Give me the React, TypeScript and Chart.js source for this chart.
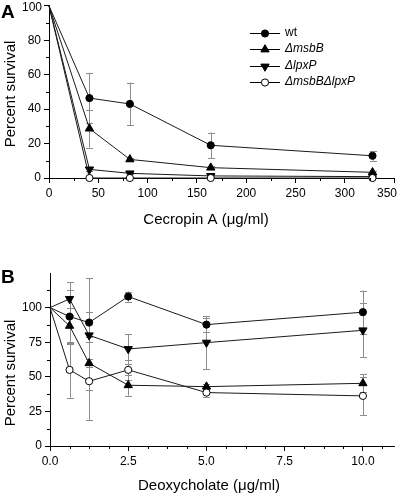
import React, { useEffect, useRef } from "react";
import { Chart, registerables } from "chart.js";
Chart.register(...registerables);

const FONT = "'Liberation Sans', Arial, Helvetica, sans-serif";

// ---------- Data: panel A (Cecropin A) ----------
const xA = [0, 41, 82, 164, 328];
const wtA = [100, 46.4, 43.0, 19.0, 12.9];
const wtAErr = [0, 14.7, 12.4, 7.4, 2.8];
const msbBA = [100, 28.7, 10.8, 6.0, 3.3];
const msbBAErr = [0, 11.0, 1.0, 1.0, 0.8];
const lpxPA = [100, 5.0, 2.7, 1.2, 0.8];
const lpxPAErr = [0, 1.0, 0.5, 0.4, 0.3];
const dblA = [100, 0, 0, 0, 0];
const dblAErr = [0, 0, 0, 0, 0];

// ---------- Data: panel B (Deoxycholate) ----------
const xB = [0, 0.625, 1.25, 2.5, 5, 10];
const wtB = [100, 93.5, 89.2, 108.0, 87.7, 96.7];
const wtBErr = [0, 19.0, 32.0, 3.6, 5.0, 15.6];
const msbBB = [100, 86.8, 59.8, 43.9, 42.9, 45.3];
const msbBBErr = [0, 13.0, 19.0, 7.5, 2.0, 6.5];
const lpxPB = [100, 106.3, 80.0, 70.1, 74.7, 83.6];
const lpxPBErr = [0, 12.0, 17.0, 10.5, 19.0, 19.5];
const dblB = [100, 55.0, 46.8, 55.0, 38.6, 36.2];
const dblBErr = [0, 20.0, 28.0, 7.0, 3.5, 14.0];

const seriesNames = ["wt", "\u0394msbB", "\u0394lpxP", "\u0394msbB\u0394lpxP"];
const xTitleA = "Cecropin A (\u03bcg/ml)";
const xTitleB = "Deoxycholate (\u03bcg/ml)";
const yTitle = "Percent survival";

type Marker = "dot" | "up" | "down" | "open";
const markers: Marker[] = ["dot", "up", "down", "open"];

function drawMarker(ctx: CanvasRenderingContext2D, m: Marker, x: number, y: number) {
  ctx.save();
  ctx.lineWidth = 1;
  ctx.strokeStyle = "#000";
  ctx.fillStyle = m === "open" ? "#fff" : "#000";
  ctx.beginPath();
  if (m === "dot" || m === "open") {
    ctx.arc(x, y, 3.6, 0, Math.PI * 2);
  } else {
    const r = 4.8;
    const s = m === "up" ? 1 : -1;
    ctx.moveTo(x, y - s * r);
    ctx.lineTo(x + 0.866 * r, y + s * 0.5 * r);
    ctx.lineTo(x - 0.866 * r, y + s * 0.5 * r);
    ctx.closePath();
  }
  ctx.fill();
  ctx.stroke();
  ctx.restore();
}

type Panel = {
  x: number[];
  series: number[][];
  errs: number[][];
  xMax: number;
  xStep: number;
  xMinor: number;
  yMax: number;
  yStep: number;
  yMinor: number;
  yLabelMax: number;
  yAxisWidth: number;
  padTop: number;
  padRight: number;
  xAxisHeight: number;
  xFmt: (v: number) => string;
  hideXLabel?: number;
  hideYLabel?: number;
  letter: string;
  letterY: number;
  xTitle: string;
  xTitleX: number;
  xTitleY: number;
  yTitleY: number;
  legend: boolean;
};

const panelA: Panel = {
  x: xA,
  series: [wtA, msbBA, lpxPA, dblA],
  errs: [wtAErr, msbBAErr, lpxPAErr, dblAErr],
  xMax: 350,
  xStep: 50,
  xMinor: 25,
  yMax: 100,
  yStep: 20,
  yMinor: 10,
  yLabelMax: 100,
  yAxisWidth: 49,
  padTop: 5,
  padRight: 5,
  xAxisHeight: 54,
  xFmt: (v) => String(v),
  hideXLabel: 350,
  hideYLabel: 100,
  letter: "A",
  letterY: 18,
  xTitle: xTitleA,
  xTitleX: 206,
  xTitleY: 224,
  yTitleY: 94,
  legend: true,
};

const panelB: Panel = {
  x: xB,
  series: [wtB, msbBB, lpxPB, dblB],
  errs: [wtBErr, msbBBErr, lpxPBErr, dblBErr],
  xMax: 11,
  xStep: 2.5,
  xMinor: 0.625,
  yMax: 125,
  yStep: 25,
  yMinor: 12.5,
  yLabelMax: 100,
  yAxisWidth: 50,
  padTop: 41,
  padRight: 2,
  xAxisHeight: 47,
  xFmt: (v) => v.toFixed(1),
  letter: "B",
  letterY: 51,
  xTitle: xTitleB,
  xTitleX: 209,
  xTitleY: 258,
  yTitleY: 141,
  legend: false,
};

function isMultiple(v: number, step: number) {
  const q = v / step;
  return Math.abs(q - Math.round(q)) < 1e-6;
}

function buildChart(canvas: HTMLCanvasElement, p: Panel) {
  const pointStyles: any[] = ["circle", "triangle", "triangle", "circle"];
  const radii = [3.6, 4.8, 4.8, 3.6];
  const datasets = p.series.map((vals, si) => ({
    label: seriesNames[si],
    data: p.x.map((x, i) => ({ x, y: vals[i] })),
    borderColor: "#1a1a1a",
    borderWidth: 1,
    pointStyle: pointStyles[si],
    pointRotation: markers[si] === "down" ? 180 : 0,
    pointRadius: p.x.map((_, i) => (i === 0 ? 0 : radii[si])),
    pointBackgroundColor: markers[si] === "open" ? "#fff" : "#000",
    pointBorderColor: "#000",
    pointBorderWidth: 1,
    tension: 0,
    clip: false as any,
    order: si === 3 ? 0 : 1,
  }));

  const extras = {
    id: "extras" + p.letter,
    beforeDatasetsDraw(chart: any) {
      const ctx: CanvasRenderingContext2D = chart.ctx;
      const xs = chart.scales.x;
      const ys = chart.scales.y;
      ctx.save();
      ctx.strokeStyle = "#8c8c8c";
      ctx.lineWidth = 1;
      p.series.forEach((vals, si) => {
        vals.forEach((v, i) => {
          const e = p.errs[si][i];
          if (!e) return;
          const px = Math.round(xs.getPixelForValue(p.x[i])) + 0.5;
          const y1 = ys.getPixelForValue(v + e);
          const y2 = ys.getPixelForValue(Math.max(0, v - e));
          ctx.beginPath();
          ctx.moveTo(px, y1);
          ctx.lineTo(px, y2);
          ctx.moveTo(px - 3.5, Math.round(y1) + 0.5);
          ctx.lineTo(px + 3.5, Math.round(y1) + 0.5);
          ctx.moveTo(px - 3.5, Math.round(y2) + 0.5);
          ctx.lineTo(px + 3.5, Math.round(y2) + 0.5);
          ctx.stroke();
        });
      });
      ctx.restore();
    },
    afterDraw(chart: any) {
      const ctx: CanvasRenderingContext2D = chart.ctx;
      const xs = chart.scales.x;
      const ys = chart.scales.y;
      const area = chart.chartArea;
      ctx.save();
      // minor ticks
      ctx.strokeStyle = "#000";
      ctx.lineWidth = 1;
      ctx.beginPath();
      for (let v = p.xMinor; v <= p.xMax + 1e-9; v += p.xMinor) {
        if (isMultiple(v, p.xStep)) continue;
        const px = Math.round(xs.getPixelForValue(v)) + 0.5;
        ctx.moveTo(px, area.bottom);
        ctx.lineTo(px, area.bottom + 3);
      }
      for (let v = p.yMinor; v <= p.yMax + 1e-9; v += p.yMinor) {
        if (isMultiple(v, p.yStep)) continue;
        const py = Math.round(ys.getPixelForValue(v)) + 0.5;
        ctx.moveTo(area.left, py);
        ctx.lineTo(area.left - 3, py);
      }
      ctx.stroke();

      ctx.fillStyle = "#000";
      // edge labels drawn inside the canvas
      ctx.font = `12px ${FONT}`;
      ctx.textBaseline = "middle";
      if (p.hideXLabel !== undefined) {
        ctx.textAlign = "right";
        ctx.fillText(p.xFmt(p.hideXLabel), 397, area.bottom + 8 + 7.2);
      }
      if (p.hideYLabel !== undefined) {
        ctx.textAlign = "right";
        ctx.fillText(String(p.hideYLabel), area.left - 7, Math.max(ys.getPixelForValue(p.hideYLabel), 7.5));
      }
      // panel letter
      ctx.font = `bold 19px ${FONT}`;
      ctx.textAlign = "left";
      ctx.textBaseline = "alphabetic";
      ctx.fillText(p.letter, 1, p.letterY);
      // x title
      ctx.font = `15px ${FONT}`;
      ctx.textAlign = "center";
      ctx.fillText(p.xTitle, p.xTitleX, p.xTitleY);
      // y title
      ctx.save();
      ctx.translate(15, p.yTitleY);
      ctx.rotate(-Math.PI / 2);
      ctx.fillText(yTitle, 0, 0);
      ctx.restore();

      // legend
      if (p.legend) {
        const rowsY = [32.5, 49, 65.5, 82];
        rowsY.forEach((ry, i) => {
          ctx.strokeStyle = "#000";
          ctx.lineWidth = 1;
          ctx.beginPath();
          ctx.moveTo(250, Math.round(ry) + 0.5);
          ctx.lineTo(280, Math.round(ry) + 0.5);
          ctx.stroke();
          drawMarker(ctx, markers[i], 265, Math.round(ry) + 0.5);
          ctx.fillStyle = "#000";
          ctx.font = `${i === 0 ? "" : "italic "}12px ${FONT}`;
          ctx.textAlign = "left";
          ctx.textBaseline = "middle";
          ctx.fillText(seriesNames[i], 285, ry);
        });
      }
      ctx.restore();
    },
  };

  return new Chart(canvas, {
    type: "line",
    data: { datasets: datasets as any },
    options: {
      responsive: false,
      animation: false,
      events: [],
      layout: { padding: { top: p.padTop, right: p.padRight, left: 0, bottom: 0 } },
      plugins: { legend: { display: false }, tooltip: { enabled: false }, title: { display: false } },
      scales: {
        x: {
          type: "linear",
          min: 0,
          max: p.xMax,
          border: { display: true, color: "#000", width: 1 },
          grid: { drawOnChartArea: false, drawTicks: true, tickLength: 5, color: "#000" },
          ticks: {
            stepSize: p.xStep,
            includeBounds: false,
            autoSkip: false,
            maxRotation: 0,
            padding: 3,
            color: "#000",
            font: { family: FONT, size: 12 },
            callback: (v: any) => (p.hideXLabel !== undefined && Math.abs(v - p.hideXLabel) < 1e-6 ? "" : p.xFmt(Number(v))),
          },
          afterFit: (s: any) => {
            s.height = p.xAxisHeight;
            s.paddingLeft = 0;
            s.paddingRight = 0;
          },
        },
        y: {
          type: "linear",
          min: 0,
          max: p.yMax,
          border: { display: true, color: "#000", width: 1 },
          grid: {
            drawOnChartArea: false,
            drawTicks: true,
            tickLength: 5,
            color: "#000",
            tickColor: (c: any) => (c.tick && c.tick.value > p.yLabelMax ? "rgba(0,0,0,0)" : "#000"),
          },
          ticks: {
            stepSize: p.yStep,
            includeBounds: false,
            autoSkip: false,
            padding: 3,
            color: "#000",
            font: { family: FONT, size: 12 },
            callback: (v: any) =>
              Number(v) > p.yLabelMax || (p.hideYLabel !== undefined && Number(v) === p.hideYLabel) ? "" : String(v),
          },
          afterFit: (s: any) => {
            s.width = p.yAxisWidth;
            s.paddingTop = 0;
            s.paddingBottom = 0;
          },
        },
      },
    },
    plugins: [extras],
  });
}

export default function App() {
  const refA = useRef<HTMLCanvasElement>(null);
  const refB = useRef<HTMLCanvasElement>(null);
  useEffect(() => {
    const a = buildChart(refA.current!, panelA);
    const b = buildChart(refB.current!, panelB);
    return () => {
      a.destroy();
      b.destroy();
    };
  }, []);
  return (
    <div style={{ position: "absolute", left: 0, top: 0, width: 400, height: 493, background: "#fff" }}>
      <canvas ref={refA} width={400} height={232} style={{ position: "absolute", left: 0, top: 0, width: 400, height: 232 }} />
      <canvas ref={refB} width={400} height={261} style={{ position: "absolute", left: 0, top: 232, width: 400, height: 261 }} />
    </div>
  );
}
